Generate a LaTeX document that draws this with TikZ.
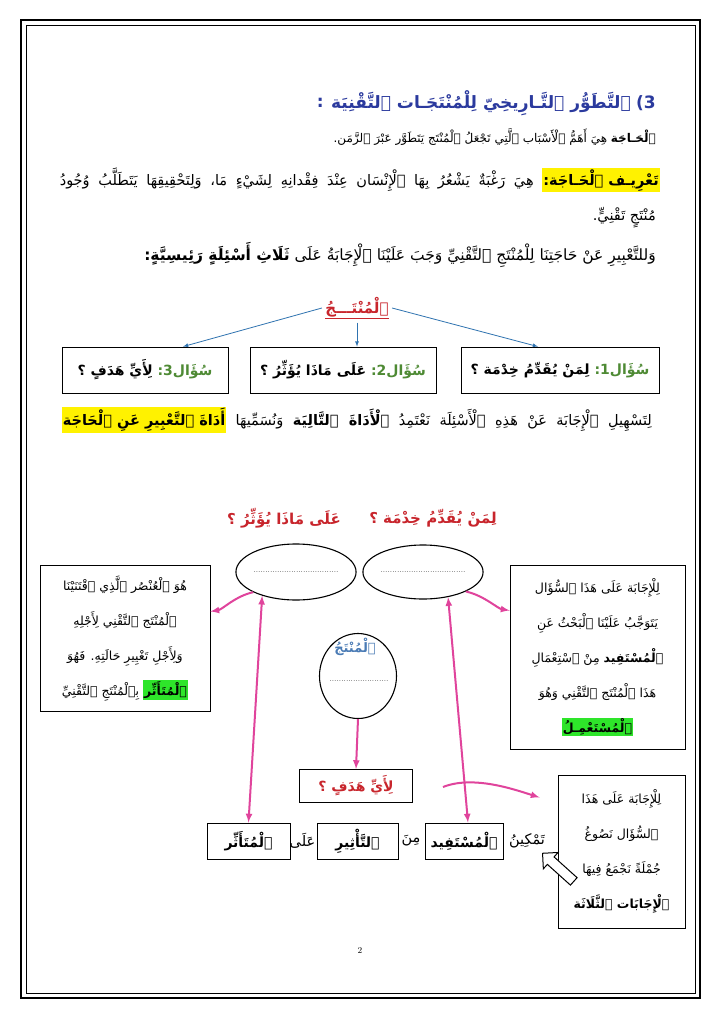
\documentclass[tikz,border=0pt]{standalone}
\usepackage{fontspec}
\newfontfamily\arabicfont[Script=Arabic]{DejaVu Sans}
\TeXXeTstate=1
\usetikzlibrary{shapes.geometric,shapes.arrows,positioning}

\definecolor{titleblue}{HTML}{2B3A9E}
\definecolor{redlabel}{HTML}{C8252C}
\definecolor{qgreen}{HTML}{4E8A34}
\definecolor{hlgreen}{HTML}{2EE52A}
\definecolor{hlyellow}{HTML}{FFF200}
\definecolor{arrowblue}{HTML}{2F73B0}
\definecolor{arrowpink}{HTML}{E0449C}
\definecolor{prodblue}{HTML}{4A7BB5}

% colour changes stay outside the right-to-left segments
\newcommand{\artxt}[1]{\beginR #1\endR}
\newcommand{\hly}[1]{{\setlength{\fboxsep}{1pt}\colorbox{hlyellow}{\artxt{\bfseries #1}}}}
\newcommand{\hlg}[1]{{\setlength{\fboxsep}{1pt}\colorbox{hlgreen}{\artxt{\bfseries #1}}}}
\newcommand{\qlabel}[1]{{\color{qgreen}\artxt{#1}}}
\newcommand{\dotline}{{\rmfamily\fontsize{8}{10}\selectfont ....................................}}

\tikzset{
  textline/.style={anchor=east, inner sep=0pt},
  qbox/.style={draw, line width=0.8, minimum height=46, inner sep=2pt,
    font=\arabicfont\fontsize{14}{17}\selectfont},
  infobox/.style={draw, line width=0.8, align=center, inner sep=0pt,
    font=\arabicfont\fontsize{12.5}{35}\selectfont},
  wordbox/.style={draw, line width=0.9, minimum height=36, inner sep=2pt,
    font=\arabicfont\bfseries\fontsize{14}{16}\selectfont},
  answer/.style={ellipse, draw, line width=1.1, inner sep=0pt},
  pinkarrow/.style={draw=arrowpink, line width=2, -latex},
  bluearrow/.style={draw=arrowblue, line width=0.8, -latex},
  headfont/.style={text=titleblue, font=\arabicfont\bfseries\fontsize{17}{20}\selectfont}
}

\begin{document}
\begin{tikzpicture}[x=1pt, y=-1pt, font=\arabicfont\fontsize{14.5}{17}\selectfont]

\useasboundingbox (0,0) rectangle (720,1017);
\fill[white] (0,0) rectangle (720,1017);

% cadre de la page
\draw[line width=1.2] (21,20) rectangle (700,998);
\draw[line width=0.6] (26,25) rectangle (695,993);

% titre
\node[textline, headfont] (hnum) at (656,103) {3)};
\node[textline, headfont, left=5pt of hnum] (heading)
  {\artxt{ٱلتَّطَوُّر ٱلتَّـارِيخِيّ لِلْمُنْتَجَـات ٱلتَّقْنِيَة}};
\node[textline, headfont, left=7pt of heading] (hcolon) {:};

% texte
\node[textline, font=\arabicfont\fontsize{12}{15}\selectfont] (intro) at (656,137)
  {\artxt{{\bfseries ٱلْحَـاجَة} هِيَ أَهَمُّ ٱلْأَسْبَاب ٱلَّتِي تَجْعَلُ ٱلْمُنْتَج يَتَطَوَّر عَبْرَ ٱلزَّمَن.}};
\node[textline] (defn) at (660,180)
  {\hbox to 600pt{\artxt{هِيَ رَغْبَةٌ يَشْعُرُ بِهَا ٱلْإِنْسَان عِنْدَ فِقْدانِهِ لِشَيْءٍ مَا، وَلِتَحْقِيقِهَا يَتَطَلَّبُ وُجُودُ} \hly{تَعْرِيـف ٱلْحَـاجَة:}}};
\node[textline] (defnend) at (656,218) {\artxt{مُنْتَجٍ تَقْنِيٍّ.}};
\node[textline, font=\arabicfont\fontsize{15.5}{18}\selectfont] (three) at (656,255)
  {\artxt{وَللتَّعْبِيرِ عَنْ حَاجَتِنَا لِلْمُنْتَجِ ٱلتَّقْنِيِّ وَجَبَ عَلَيْنَا ٱلْإِجَابَةُ عَلَى {\bfseries ثَلَاثِ أَسْئِلَةٍ رَئِيسِيَّةٍ:}}};

% les trois questions
\node[text=redlabel, font=\arabicfont\bfseries\fontsize{15}{18}\selectfont] (mtitle) at (357,308)
  {\underline{\artxt{ٱلْمُنْتَـــجُ}}};
\node[qbox, minimum width=198] (q1) at (560,370)
  {\artxt{\bfseries لِمَنْ يُقَدِّمُ خِدْمَة ؟} \qlabel{سُؤَال1:}};
\node[qbox, minimum width=186] (q2) at (343,370)
  {\artxt{\bfseries عَلَى مَاذَا يُؤَثِّرُ ؟} \qlabel{سُؤَال2:}};
\node[qbox, minimum width=166] (q3) at (145,370)
  {\artxt{\bfseries لِأَيِّ هَدَفٍ ؟} \qlabel{سُؤَال3:}};

\draw[bluearrow] (mtitle.west) -- ([xshift=38]q3.north);
\draw[bluearrow] (mtitle.south) -- (mtitle.south |- q2.north);
\draw[bluearrow] (mtitle.east) -- ([xshift=-22]q1.north);

\node[textline] (aid) at (652,420)
  {\hbox to 590pt{\hly{أَدَاةَ ٱلتَّعْبِيرِ عَنِ ٱلْحَاجَة} \artxt{لِتَسْهِيلِ ٱلْإِجَابَة عَنْ هَذِهِ ٱلْأَسْئِلَة نَعْتَمِدُ {\bfseries ٱلْأَدَاةَ ٱلتَّالِيَة} وَنُسَمِّيهَا}}};

% outil d'expression du besoin
\node[text=redlabel, font=\arabicfont\bfseries\fontsize{15}{18}\selectfont] (qwho) at (433,518)
  {\artxt{لِمَنْ يُقَدِّمُ خِدْمَة ؟}};
\node[text=redlabel, font=\arabicfont\bfseries\fontsize{15}{18}\selectfont] (qwhat) at (284,518)
  {\artxt{عَلَى مَاذَا يُؤَثِّرُ ؟}};

\node[answer, minimum width=112, minimum height=56] (lell) at (296,572) {\dotline};
\node[answer, minimum width=108, minimum height=54] (rell) at (423,572) {\dotline};
\node[answer, minimum width=77, minimum height=85] (prod) at (358,676) {};
\node[text=prodblue, font=\arabicfont\bfseries\fontsize{13}{15}\selectfont] (prodlbl) at (355,647) {\artxt{ٱلْمُنْتَجُ}};
\node (proddots) at (359,681) {\rmfamily\fontsize{8}{10}\selectfont .........................};

\node[infobox, minimum width=170, minimum height=146] (lbox) at (125,638.5)
  {\artxt{هُوَ ٱلْعُنْصُر ٱلَّذِي ٱقْتَنَيْنَا}\\
   \artxt{ٱلْمُنْتَج ٱلتَّقْنِي لِأَجْلِهِ}\\
   \artxt{وَلِأَجْلِ تَغْيِيرِ حَالَتِهِ. فَهُوَ}\\
   \artxt{بِٱلْمُنْتَجِ ٱلتَّقْنِيِّ} \hlg{ٱلْمُتَأَثِّر}};
\node[infobox, minimum width=175, minimum height=184] (rbox) at (597.5,657.5)
  {\artxt{لِلْإِجَابَة عَلَى هَذَا ٱلسُّؤَال}\\
   \artxt{يَتَوَجَّبُ عَلَيْنَا ٱلْبَحْثُ عَنِ}\\
   \artxt{{\bfseries ٱلْمُسْتَفِيد} مِنْ ٱسْتِعْمَالِ}\\
   \artxt{هَذَا ٱلْمُنْتَج ٱلتَّقْنِي وَهُوَ}\\
   \hlg{ٱلْمُسْتَعْمِـلُ}};

\node[wordbox, text=redlabel, minimum width=113, minimum height=33] (hadaf) at (356,786) {\artxt{لِأَيِّ هَدَفٍ ؟}};

% la phrase
\node[wordbox, minimum width=83] (muta) at (248.5,841) {\artxt{ٱلْمُتَأَثِّر}};
\node (ala) at (302.5,841) {\artxt{عَلَى}};
\node[wordbox, minimum width=81] (tathir) at (357.5,841) {\artxt{ٱلتَّأْثِيرِ}};
\node (min) at (411,841) {\artxt{مِنَ}};
\node[wordbox, minimum width=78] (mustafid) at (464,841) {\artxt{ٱلْمُسْتَفِيد}};
\node (tamkin) at (527,841) {\artxt{تَمْكِينُ}};

\node[infobox, minimum width=127, minimum height=153] (sbox) at (621.5,851.5)
  {\artxt{لِلْإِجَابَة عَلَى هَذَا}\\
   \artxt{ٱلسُّؤَال نَصُوغُ}\\
   \artxt{جُمْلَةً نَجْمَعُ فِيهَا}\\
   \artxt{\bfseries ٱلْإِجَابَات ٱلثَّلَاثَة}};

\node[single arrow, draw, line width=1, fill=white, minimum height=42, inner sep=4.5pt,
  single arrow head extend=6pt, rotate=138] (hollow) at (560,869) {};

% fleches roses
\draw[pinkarrow] (lell.south west) .. controls +(-18,4) and +(12,-2) .. ([yshift=27]lbox.east);
\draw[pinkarrow] (rell.south east) .. controls +(18,4) and +(-12,-2) .. ([yshift=47]rbox.west);
\draw[pinkarrow, latex-latex] (lell.215) -- (muta.north);
\draw[pinkarrow, latex-latex] (rell.315) -- ([xshift=4]mustafid.north);
\draw[pinkarrow] (prod.south) -- (hadaf.north);
\coordinate (cstart) at (443,787);
\draw[pinkarrow] (cstart) .. controls +(30,-12) and +(-25,-8) .. ([xshift=-18,yshift=54]sbox.west);

\node[font=\rmfamily\small] (pagenum) at (360,950) {2};

\end{tikzpicture}
\end{document}
